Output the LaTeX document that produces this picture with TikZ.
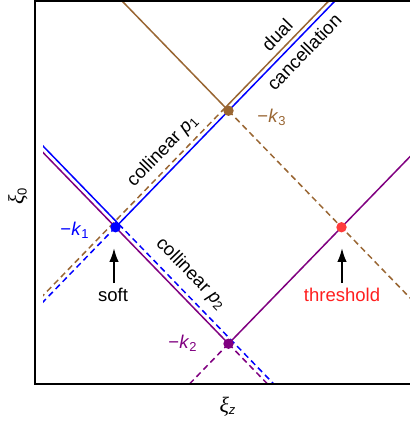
\documentclass[tikz,border=0pt]{standalone}
\usepackage{fontspec}
\setmainfont{Liberation Sans}
\newfontfamily\xifont{Liberation Serif}
\usetikzlibrary{calc,arrows.meta}
\definecolor{mybrown}{RGB}{153,102,51}
\definecolor{mypurple}{RGB}{128,0,128}
\definecolor{myred}{RGB}{255,30,30}
\definecolor{dotred}{RGB}{255,60,60}
\begin{document}
\begin{tikzpicture}[x=0.5pt,y=-0.5pt,font=\fontsize{9.25}{11}\selectfont,
  bl/.style={blue,line width=0.75pt},
  br/.style={mybrown,line width=0.75pt},
  pu/.style={mypurple,line width=0.75pt},
  dsh/.style={dash pattern=on 3pt off 2pt},
  dot/.style={circle,inner sep=0pt,minimum size=5.2pt},
  frm/.style={black,line width=1.2pt},
  lbl/.style={inner sep=1pt},
  arr/.style={line width=1pt,-{Latex[length=7pt,width=4.8pt]}}]
\useasboundingbox (0,0) rectangle (410,421);
% key points
\coordinate (k1) at (115.5,227.25);
\coordinate (k2) at (228.5,343.75);
\coordinate (k3) at (228.5,110.75);
\coordinate (th) at (341.5,227.25);
\begin{scope}
\clip (43,1) rectangle (410,383.5);
% L1 (through k1 and k3)
\draw[bl] (k1) -- ++(400,-412.4);
\draw[bl,dsh] (k1) -- ++(-400,412.4);
\draw[br] ($(k3)+(-3.23,-3.13)$) -- ++(400,-412.4);
\draw[br,dsh] ($(k3)+(-3.23,-3.13)$) -- ++(-400,412.4);
% L3 (through k3 and threshold)
\draw[br] (k3) -- ++(-400,-412.4);
\draw[br,dsh] (k3) -- ++(400,412.4);
% L2 (through k1 and k2)
\draw[pu] (k2) -- ++(-400,-412.4);
\draw[pu,dsh] (k2) -- ++(400,412.4);
\draw[bl] ($(k1)+(3.23,-3.13)$) -- ++(-400,-412.4);
\draw[bl,dsh] ($(k1)+(3.23,-3.13)$) -- ++(400,412.4);
% L4 (through k2 and threshold)
\draw[pu] (k2) -- ++(400,-412.4);
\draw[pu,dsh] (k2) -- ++(-400,412.4);
\end{scope}
% frame
\draw[frm] (410,1) -- (35,1) -- (35,384) -- (410,384);
% dots
\node[dot,fill=blue] (d1) at (k1) {};
\node[dot,fill=mypurple] (d2) at (k2) {};
\node[dot,fill=mybrown] (d3) at (k3) {};
\node[dot,fill=dotred] (dth) at (th) {};
% labels
\node[lbl,text=blue] (lk1) at (75,230) {−\textit{k}\textsubscript{1}};
\node[lbl,text=mypurple] (lk2) at (183,343) {−\textit{k}\textsubscript{2}};
\node[lbl,text=mybrown] (lk3) at (272,117) {−\textit{k}\textsubscript{3}};
\node[lbl,rotate=45.9] (dual) at (277,35) {dual};
\node[lbl,rotate=45.9] (canc) at (304,52) {cancellation};
\node[lbl,rotate=45.9] (cp1) at (163,151) {collinear \textit{p}\textsubscript{1}};
\node[lbl,rotate=-45.9] (cp2) at (191,274) {collinear \textit{p}\textsubscript{2}};
\node[lbl] (soft) at (113,295) {soft};
\node[lbl,text=myred] (thr) at (342,295) {threshold};
\coordinate (sa) at (114,283);
\coordinate (ta) at (342,283);
\draw[arr] (sa) -- ++(0,-35);
\draw[arr] (ta) -- ++(0,-35);
\node[lbl,rotate=90] (xi0) at (18,196) {{\xifont\fontsize{11}{13}\selectfont\itshape ξ}\textsubscript{0}};
\node[lbl] (xiz) at (228,407) {{\xifont\fontsize{11}{13}\selectfont\itshape ξ}\textsubscript{\itshape z}};
\end{tikzpicture}
\end{document}
